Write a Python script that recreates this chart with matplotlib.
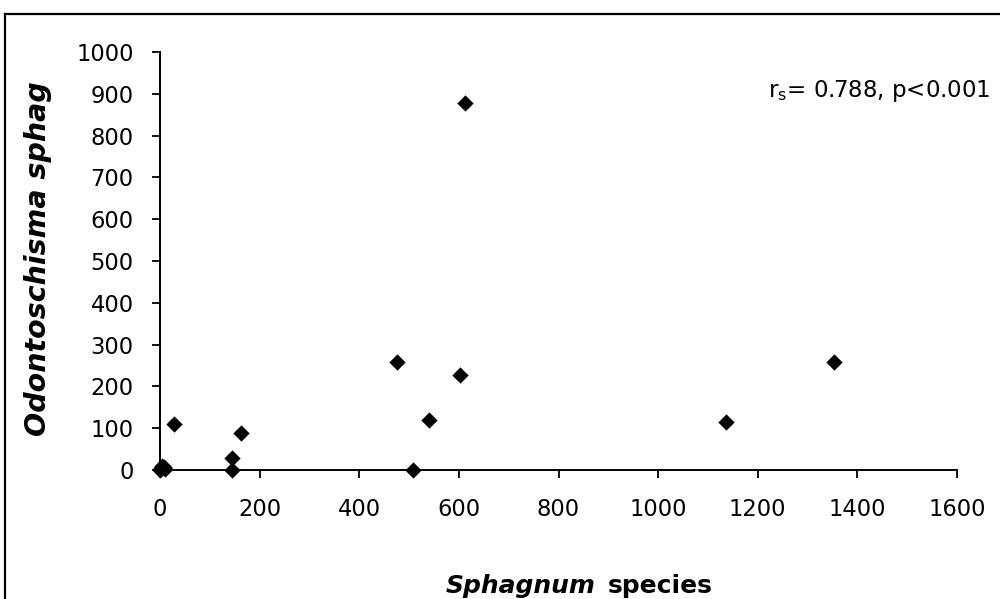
import matplotlib
matplotlib.use("Agg")
import matplotlib.pyplot as plt
from matplotlib.lines import Line2D

# Data
sphagnum = [0, 2, 5, 10, 8, 28, 144, 144, 162, 476, 508, 540, 602, 612, 1137, 1353]
odontoschisma = [0, 5, 10, 2, 7, 110, 29, 0, 89, 258, 0, 120, 227, 878, 115, 258]
xticks = [0, 200, 400, 600, 800, 1000, 1200, 1400, 1600]
yticks = [0, 100, 200, 300, 400, 500, 600, 700, 800, 900, 1000]

plt.rcParams['font.family'] = ['DejaVu Sans']
plt.rcParams['mathtext.fontset'] = 'dejavusans'

W, H = 1000, 599
fig = plt.figure(figsize=(W / 100, H / 100), dpi=100)
ax = fig.add_axes([160 / W, 1 - 470 / H, (957 - 160) / W, (470 - 52) / H])

ax.scatter(sphagnum, odontoschisma, marker='D', s=8.3 ** 2, color='black',
           linewidths=0, zorder=5, clip_on=False)

ax.set_xlim(0, 1600)
ax.set_ylim(0, 1000)
ax.set_xticks(xticks)
ax.set_yticks(yticks)
for s in ['top', 'right']:
    ax.spines[s].set_visible(False)
for s in ['left', 'bottom']:
    ax.spines[s].set_linewidth(1.4)
ax.tick_params(axis='both', direction='out', length=6, width=1.3, labelsize=16.3)
ax.tick_params(axis='x', pad=14)
ax.tick_params(axis='y', pad=13)

# Axis titles
t1 = fig.text(446 / W, 1 - 593 / H, 'Sphagnum', fontsize=18, fontweight='bold',
              fontstyle='italic', ha='left', va='baseline')
fig.canvas.draw()
bb = t1.get_window_extent()
fig.text((bb.x1 + 12) / W, 1 - 593 / H, 'species', fontsize=18, fontweight='bold',
         ha='left', va='baseline')

fig.text(38 / W, 1 - 436 / H, 'Odontoschisma sphag', fontsize=20.5, fontweight='bold',
         fontstyle='italic', rotation=90, ha='center', va='bottom')

fig.text(768 / W, 1 - 97 / H, r'r$_{\mathrm{s}}$= 0.788, p<0.001', fontsize=16.5,
         ha='left', va='baseline')

# Chart frame (partially visible)
fig.add_artist(Line2D([5 / W, 1], [1 - 14 / H, 1 - 14 / H], color='black', lw=1.6,
                      transform=fig.transFigure))
fig.add_artist(Line2D([5 / W, 5 / W], [0, 1 - 14 / H], color='black', lw=1.6,
                      transform=fig.transFigure))

fig.savefig('out.png', dpi=100)
